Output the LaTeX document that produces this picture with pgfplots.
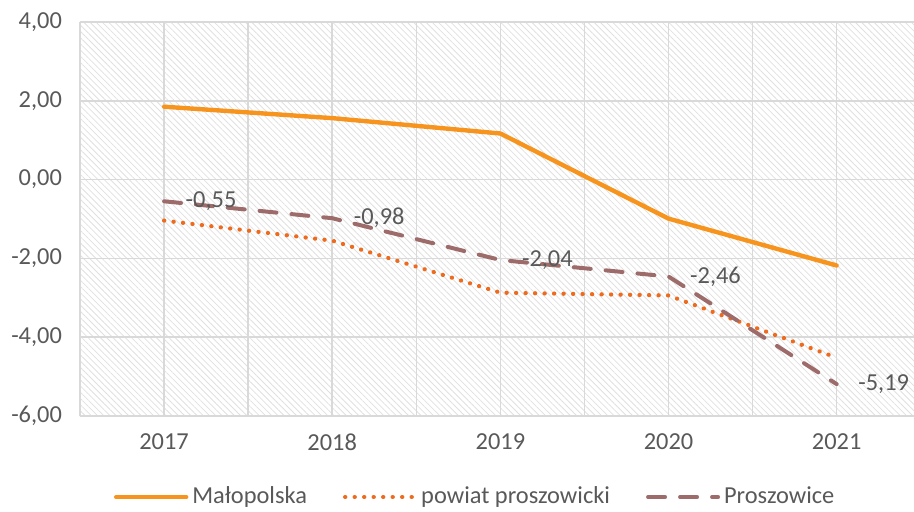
\documentclass[border=0pt]{standalone}
\usepackage{fontspec}
\setmainfont{Carlito}
\usepackage{pgfplots}
\pgfplotsset{compat=1.18}
\usetikzlibrary{patterns.meta}
\definecolor{malo}{HTML}{F7941D}
\definecolor{pow}{HTML}{EE6B1E}
\definecolor{pros}{HTML}{9E6B6B}
\definecolor{txt}{HTML}{595959}
\definecolor{gridc}{HTML}{D9D9D9}
\begin{document}
\begin{tikzpicture}
\useasboundingbox (-40pt,-47.5pt) rectangle (417pt,208pt);
\begin{axis}[
  at={(0,0)}, anchor=south west, scale only axis,
  width=417pt, height=197pt,
  xmin=-0.5, xmax=4.46, ymin=-6, ymax=4,
  xtick={0,1,2,3,4}, xticklabels={2017,2018,2019,2020,2021},
  minor xtick={-0.5,0.5,1.5,2.5,3.5},
  ytick={-6,-4,-2,0,2,4},
  xmajorgrids, xminorgrids, ymajorgrids,
  major grid style={draw=gridc, line width=0.75pt},
  minor grid style={draw=gridc, line width=0.75pt},
  axis line style={draw=none},
  major tick style={draw=none}, minor tick style={draw=none},
  clip=false,
  axis background/.style={pattern={Lines[angle=-45,distance=2.2pt,line width=0.4pt]}, pattern color=gray!24},
  tick label style={font=\fontsize{12.2}{14.6}\selectfont, text=txt},
  yticklabel style={/pgf/number format/fixed, /pgf/number format/fixed zerofill, /pgf/number format/precision=2, /pgf/number format/use comma, /pgf/number format/assume math mode=true, xshift=-5.5pt},
  xticklabel style={yshift=-5.5pt},
  legend style={at={(axis description cs:0.475,0)}, yshift=-40.5pt, anchor=center,
    draw=none, fill=none, font=\fontsize{12.2}{14.6}\selectfont, text=txt,
    /tikz/every even column/.append style={column sep=16pt}},
  legend columns=3,
  legend image code/.code={\draw[#1] (0pt,0pt) -- (35pt,0pt);},
]
\addplot[malo, line width=2.2pt, line cap=round, line join=round] coordinates {
  (0,1.85) (1,1.56) (2,1.17) (3,-0.99) (4,-2.18)};
\addlegendentry{Małopolska}
\addplot[pow, line width=2.1pt, line cap=round, dash pattern=on 0.1pt off 4.65pt] coordinates {
  (0,-1.04) (1,-1.55) (2,-2.87) (3,-2.94) (4,-4.52)};
\addlegendentry{powiat proszowicki}
\addplot[pros, line width=2pt, line cap=round, dash pattern=on 8.5pt off 7.5pt,
  nodes near coords={\pgfmathprintnumber[fixed,fixed zerofill,precision=2,use comma,assume math mode=true]{\pgfplotspointmeta}},
  every node near coord/.style={anchor=west, xshift=6.5pt, font=\fontsize{12.2}{14.6}\selectfont, text=txt}] coordinates {
  (0,-0.55) (1,-0.98) (2,-2.04) (3,-2.46) (4,-5.19)};
\addlegendentry{Proszowice}
\end{axis}
\end{tikzpicture}
\end{document}
